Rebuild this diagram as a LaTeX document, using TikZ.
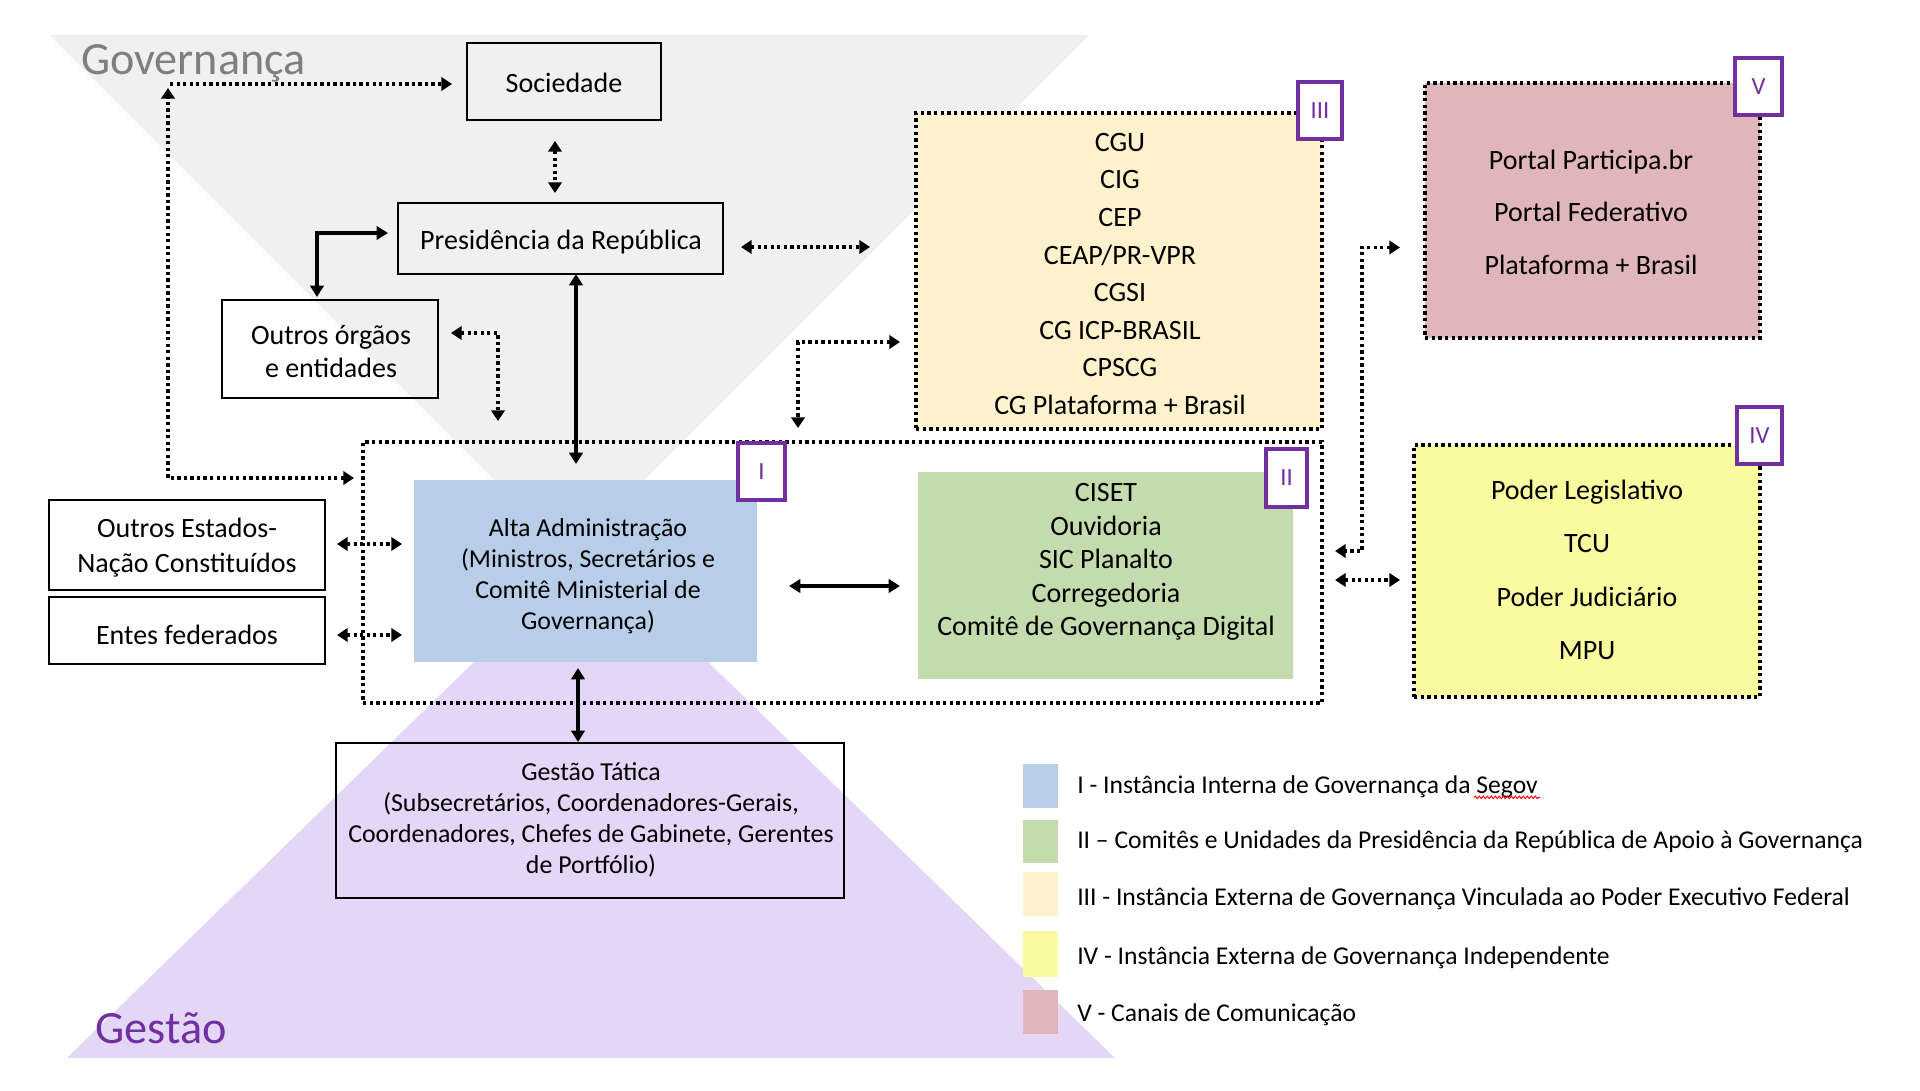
\documentclass[tikz,border=0pt]{standalone}
\usepackage{fontspec}
\setmainfont{Carlito}
\usetikzlibrary{arrows.meta,calc,fit,decorations.pathmorphing}
\definecolor{grtri}{HTML}{F0F0F0}
\definecolor{pptri}{HTML}{E4D6F7}
\definecolor{bluef}{HTML}{B8CDE8}
\definecolor{greenf}{HTML}{C4DBAE}
\definecolor{creamf}{HTML}{FFF1CC}
\definecolor{yellf}{HTML}{FAFA9E}
\definecolor{pinkf}{HTML}{E1B6BA}
\definecolor{purp}{HTML}{7030A0}
\definecolor{govgray}{HTML}{7F7F7F}
\tikzset{
  sbox/.style={draw=black, line width=1.5pt, inner sep=0pt, outer sep=0pt},
  dbox/.style={draw=black, line width=2.6pt, dash pattern=on 2.6pt off 2.4pt, inner sep=0pt, outer sep=0pt},
  fbox/.style={draw=none, inner sep=0pt, outer sep=0pt},
  badge/.style={draw=purp, fill=white, line width=2.4pt, inner sep=0pt, outer sep=0pt},
  badgetxt/.style={text=purp, font=\fontsize{18.5}{18.5}\selectfont, inner sep=0pt},
  txt/.style={font=\fontsize{21}{25}\selectfont, align=center, inner sep=0pt},
  legtxt/.style={font=\fontsize{19.2}{22}\selectfont, anchor=west, inner sep=0pt},
  dotc/.style={line width=2.5pt, dash pattern=on 2.5pt off 2.4pt,
    {Triangle[length=8pt,width=10pt]}-{Triangle[length=8pt,width=10pt]}},
  dotone/.style={line width=2.5pt, dash pattern=on 2.5pt off 2.4pt,
    -{Triangle[length=8pt,width=10pt]}},
  solc/.style={line width=2.4pt,
    {Triangle[length=8.5pt,width=10pt]}-{Triangle[length=8.5pt,width=10pt]}},
}
\begin{document}
\begin{tikzpicture}[x=0.75pt,y=-0.75pt]
\useasboundingbox (0,0) rectangle (1920,1091);
% background triangles
\fill[grtri] (49,35) -- (1089,35) -- (569,555) -- cycle;
\fill[pptri] (67,1058) -- (1115,1058) -- (591,548) -- cycle;
% labels of triangles
\node[anchor=base west, text=govgray, font=\fontsize{34.6}{36}\selectfont, inner sep=0pt] (gov) at (81,75) {Governança};
\node[anchor=base west, text=purp, font=\fontsize{34.7}{36}\selectfont, inner sep=0pt] (ges) at (95,1043) {Gestão};
% coloured boxes
\node[fit={(414,480) (757,662)}, fill=bluef, fbox] (alta) {};
\node[fit={(918,472) (1293,679)}, fill=greenf, fbox] (green) {};
\node[fit={(916,113) (1322,429)}, fill=creamf, dbox] (iii) {};
\node[fit={(1425,83) (1760,338)}, fill=pinkf, dbox] (v) {};
\node[fit={(1414,445) (1760,697)}, fill=yellf, dbox] (iv) {};
\node[fit={(363,442) (1322,703)}, dbox] (frame) {};
% plain boxes
\node[fit={(467,43) (661,120)}, sbox] (soc) {};
\node[fit={(398,203) (723,274)}, sbox] (pres) {};
\node[fit={(222,300) (438,398)}, sbox] (outr) {};
\node[fit={(49,500) (325,590)}, sbox] (oest) {};
\node[fit={(49,597) (325,664)}, sbox] (entes) {};
\node[fit={(336,743) (844,898)}, sbox] (gt) {};
% texts
\node[txt] (soct) at (564,83) {Sociedade};
\node[txt] (prest) at (561,242) {Presidência da República};
\node[txt, font=\fontsize{21}{24.75}\selectfont] (outrt) at (331,352) {Outros órgãos\\e entidades};
\node[txt, font=\fontsize{19.4}{23.25}\selectfont] (altat) at (588,576) {Alta Administração\\(Ministros, Secretários e\\Comitê Ministerial de\\Governança)};
\node[txt, font=\fontsize{21}{25.1}\selectfont] (greent) at (1106,562) {CISET\\Ouvidoria\\SIC Planalto\\Corregedoria\\Comitê de Governança Digital};
\node[txt, font=\fontsize{21}{28.2}\selectfont] (iiit) at (1120,274) {CGU\\CIG\\CEP\\CEAP/PR-VPR\\CGSI\\CG ICP-BRASIL\\CPSCG\\CG Plataforma + Brasil};
\node[txt, font=\fontsize{21}{39.4}\selectfont] (vt) at (1591,212) {Portal Participa.br\\Portal Federativo\\Plataforma + Brasil};
\node[txt, font=\fontsize{21}{40}\selectfont] (ivt) at (1587,570) {Poder Legislativo\\TCU\\Poder Judiciário\\MPU};
\node[txt, font=\fontsize{21}{26.25}\selectfont] (oestt) at (187,548) {Outros Estados-\\Nação Constituídos};
\node[txt] (entest) at (187,635) {Entes federados};
\node[txt, font=\fontsize{19.4}{23.25}\selectfont] (gtt) at (591,820) {Gestão Tática\\(Subsecretários, Coordenadores-Gerais,\\Coordenadores, Chefes de Gabinete, Gerentes\\de Portfólio)};
% connector helper coordinates
\coordinate (cl) at (168,88);
\coordinate (cl2) at (170,84);
\coordinate (vc) at (1362,551);
% connectors
\draw[dotc] ($(soc.south)+(-9,21)$) -- ($(pres.north)+(-5.5,-10)$);
\draw[dotc] ($(frame.north west)+(-9,36)$) -| (cl);
\draw[dotone] (cl2) -- ($(soc.west)+(-15,2.5)$);
\draw[solc] ($(pres.west)+(-10,-5.5)$) -| ($(outr.north)+(-13,-3)$);
\draw[solc] ($(pres.south)+(15.5,0)$) -- ($(alta.north)+(-9.5,-16)$);
\draw[dotc] ($(pres.east)+(18,8.5)$) -- ($(iii.west)+(-46,-24)$);
\draw[dotc] ($(outr.east)+(13,-16)$) -| ($(frame.north west)+(135,-21)$);
\draw[dotc] ($(iii.west)+(-16,71)$) -| ($(frame.north west)+(435,-14)$);
\draw[dotc] ($(v.west)+(-25,37)$) -| (vc) -- ($(frame.north east)+(13,109)$);
\draw[dotc] ($(frame.east)+(13,7.5)$) -- ($(iv.west)+(-14,9)$);
\draw[dotc] ($(oest.east)+(12,-1)$) -- ($(alta.west)+(-12,-27)$);
\draw[dotc] ($(entes.east)+(12,4.5)$) -- ($(alta.west)+(-12,64)$);
\draw[solc] ($(alta.east)+(32,15)$) -- ($(green.west)+(-18,10.5)$);
\draw[solc] ($(alta.south)+(-7.5,6)$) -- ($(gt.north)+(-12,-1)$);
% badges
\node[fit={(738,443) (785,500)}, badge] (b1) {};
\node[badgetxt] (b1t) at (b1.center) {I};
\node[fit={(1266,449) (1307,507)}, badge] (b2) {};
\node[badgetxt] (b2t) at (b2.center) {II};
\node[fit={(1298,82) (1342,139)}, badge] (b3) {};
\node[badgetxt] (b3t) at (b3.center) {III};
\node[fit={(1737,407) (1782,464)}, badge] (b4) {};
\node[badgetxt] (b4t) at (b4.center) {IV};
\node[fit={(1735,58) (1782,115)}, badge] (b5) {};
\node[badgetxt] (b5t) at (b5.center) {V};
% legend
\node[fit={(1023,764) (1058,808)}, fill=bluef, fbox] (l1) {};
\node[fit={(1023,820) (1058,863)}, fill=greenf, fbox] (l2) {};
\node[fit={(1023,872) (1058,916)}, fill=creamf, fbox] (l3) {};
\node[fit={(1023,931) (1058,977)}, fill=yellf, fbox] (l4) {};
\node[fit={(1023,990) (1058,1034)}, fill=pinkf, fbox] (l5) {};
\node[legtxt] (l1t) at (1077,787) {I - Instância Interna de Governança da Segov};
\node[legtxt] (l2t) at (1077,842) {II – Comitês e Unidades da Presidência da República de Apoio à Governança};
\node[legtxt] (l3t) at (1077,899) {III - Instância Externa de Governança Vinculada ao Poder Executivo Federal};
\node[legtxt] (l4t) at (1077,958) {IV - Instância Externa de Governança Independente};
\node[legtxt] (l5t) at (1077,1015) {V - Canais de Comunicação};
\draw[red, line width=0.7pt, decorate, decoration={snake, amplitude=0.9pt, segment length=3pt}]
  ($(l1t.south east)+(-64,-1)$) -- ($(l1t.south east)+(2,-1)$);
\end{tikzpicture}
\end{document}
